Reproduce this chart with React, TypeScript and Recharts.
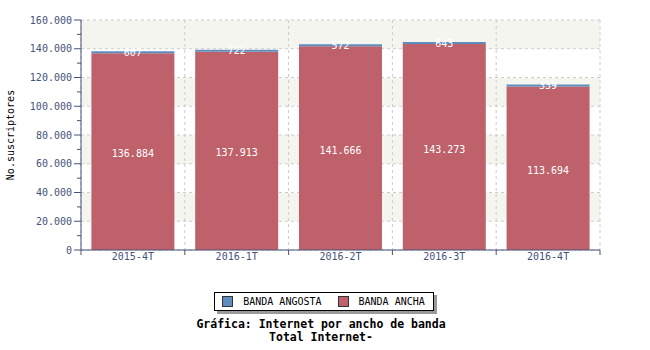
// Suscriptores de Internet por ancho de banda (Recharts)
import { BarChart, Bar, XAxis, YAxis, CartesianGrid, Legend, LabelList } from 'recharts';

const MONO = '"DejaVu Sans Mono", monospace';
const AXIS_COLOR = '#46527a';

const categories = ['2015-4T', '2016-1T', '2016-2T', '2016-3T', '2016-4T'];
const bandaAncha = [136884, 137913, 141666, 143273, 113694];
const bandaAngosta = [607, 722, 572, 643, 339];
const yTicks = [0, 10000, 20000, 30000, 40000, 50000, 60000, 70000, 80000, 90000, 100000, 110000, 120000, 130000, 140000, 150000, 160000];
const yGridValues = [0, 20000, 40000, 60000, 80000, 100000, 120000, 140000, 160000];

const SERIES = [
  { key: 'angosta', name: 'BANDA ANGOSTA', color: '#5f8dbd' },
  { key: 'ancha', name: 'BANDA ANCHA', color: '#be616b' },
];

const data = categories.map((cat, i) => ({
  cat,
  ancha: bandaAncha[i],
  angosta: bandaAngosta[i],
}));

// Tausendertrennzeichen mit Punkt
const fmt = (v: number) => String(v).replace(/\B(?=(\d{3})+(?!\d))/g, '.');

function YTick(props: any) {
  const { x, y, payload } = props;
  const axisX = x + 9; // tickSize 7 + tickMargin 2
  const major = payload.value % 20000 === 0;
  return (
    <g>
      <line x1={axisX - (major ? 7 : 4)} x2={axisX} y1={y} y2={y} stroke={AXIS_COLOR} />
      {major && (
        <text x={x} y={y} dy="0.35em" textAnchor="end" fontSize={10} fontFamily={MONO} fill={AXIS_COLOR}>
          {fmt(payload.value)}
        </text>
      )}
    </g>
  );
}

function XTick(props: any) {
  const { x, y, payload, index, visibleTicksCount, width } = props;
  const half = payload.offset ?? width / visibleTicksCount / 2;
  const axisY = y - 7; // tickSize 5 + tickMargin 2
  return (
    <g>
      <line x1={x - half} x2={x - half} y1={axisY} y2={axisY + 5} stroke={AXIS_COLOR} />
      {index === visibleTicksCount - 1 && (
        <line x1={x + half} x2={x + half} y1={axisY} y2={axisY + 5} stroke={AXIS_COLOR} />
      )}
      <text x={x} y={axisY + 9.5} textAnchor="middle" fontSize={10} fontFamily={MONO} fill={AXIS_COLOR}>
        {payload.value}
      </text>
    </g>
  );
}

function LegendBox() {
  return (
    <div style={{ display: 'flex', flexDirection: 'column', alignItems: 'center', fontFamily: MONO, color: '#000' }}>
      <div
        style={{
          display: 'flex',
          alignItems: 'center',
          border: '1px solid #000',
          boxShadow: '3px 3px 0 #9a9a9a',
          background: '#fff',
          padding: '3px 8px 3px 7px',
          fontSize: 10,
          lineHeight: '11px',
          marginLeft: -2,
        }}
      >
        {SERIES.map((s, i) => (
          <div key={s.key} style={{ display: 'flex', alignItems: 'center', marginLeft: i === 0 ? 0 : 16 }}>
            <span style={{ width: 9, height: 9, background: s.color, border: '1px solid #333', marginRight: 10 }} />
            <span>{s.name}</span>
          </div>
        ))}
      </div>
      <div style={{ fontWeight: 'bold', fontSize: 11.5, lineHeight: '13px', marginTop: 7, marginRight: 8 }}>
        Gráfica: Internet por ancho de banda
      </div>
      <div style={{ fontWeight: 'bold', fontSize: 11.5, lineHeight: '13px', marginRight: 8 }}>Total Internet-</div>
    </div>
  );
}

export default function App() {
  return (
    <div style={{ position: 'absolute', left: 0, top: 0, width: 650, height: 350, background: '#fff' }}>
      <BarChart
        width={650}
        height={350}
        data={data}
        margin={{ top: 20, right: 50, left: 0, bottom: 80 }}
        barCategoryGap="10%"
      >
        <CartesianGrid
          stroke="#cccccc"
          strokeDasharray="3 3"
          horizontalFill={['#f5f5f0', '#ffffff']}
          fillOpacity={1}
          horizontalCoordinatesGenerator={({ yAxis, offset }: any) =>
            yGridValues.map(v =>
              typeof yAxis?.scale === 'function'
                ? yAxis.scale(v)
                : offset.top + offset.height * (1 - v / 160000)
            )
          }
          verticalCoordinatesGenerator={({ offset }: any) =>
            Array.from({ length: categories.length + 1 }, (_, i) => offset.left + (offset.width * i) / categories.length)
          }
        />
        <XAxis
          dataKey="cat"
          height={20}
          stroke={AXIS_COLOR}
          tickLine={false}
          tickSize={5}
          tickMargin={2}
          tick={<XTick />}
          interval={0}
        />
        <YAxis
          width={81}
          domain={[0, 160000]}
          ticks={yTicks}
          interval={0}
          stroke={AXIS_COLOR}
          tickLine={false}
          tickSize={7}
          tickMargin={2}
          tick={<YTick />}
          label={{
            value: 'No.suscriptores',
            angle: -90,
            position: 'insideLeft',
            offset: 10,
            style: { textAnchor: 'middle', fontSize: 10, fontFamily: MONO, fill: '#000' },
          }}
        />
        <Legend
          layout="horizontal"
          verticalAlign="middle"
          align="center"
          wrapperStyle={{ top: 292, left: 0, width: 650 }}
          content={() => <LegendBox />}
        />
        <Bar dataKey="ancha" name="BANDA ANCHA" stackId="a" fill="#be616b" isAnimationActive={false}>
          <LabelList dataKey="ancha" position="center" offset={0} dy={2} fill="#fff" fontSize={10} fontFamily={MONO} formatter={(v: any) => fmt(Number(v))} />
        </Bar>
        <Bar dataKey="angosta" name="BANDA ANGOSTA" stackId="a" fill="#5f8dbd" minPointSize={2} isAnimationActive={false}>
          <LabelList dataKey="angosta" position="center" fill="#fff" fontSize={10} fontFamily={MONO} formatter={(v: any) => fmt(Number(v))} />
        </Bar>
      </BarChart>
    </div>
  );
}
